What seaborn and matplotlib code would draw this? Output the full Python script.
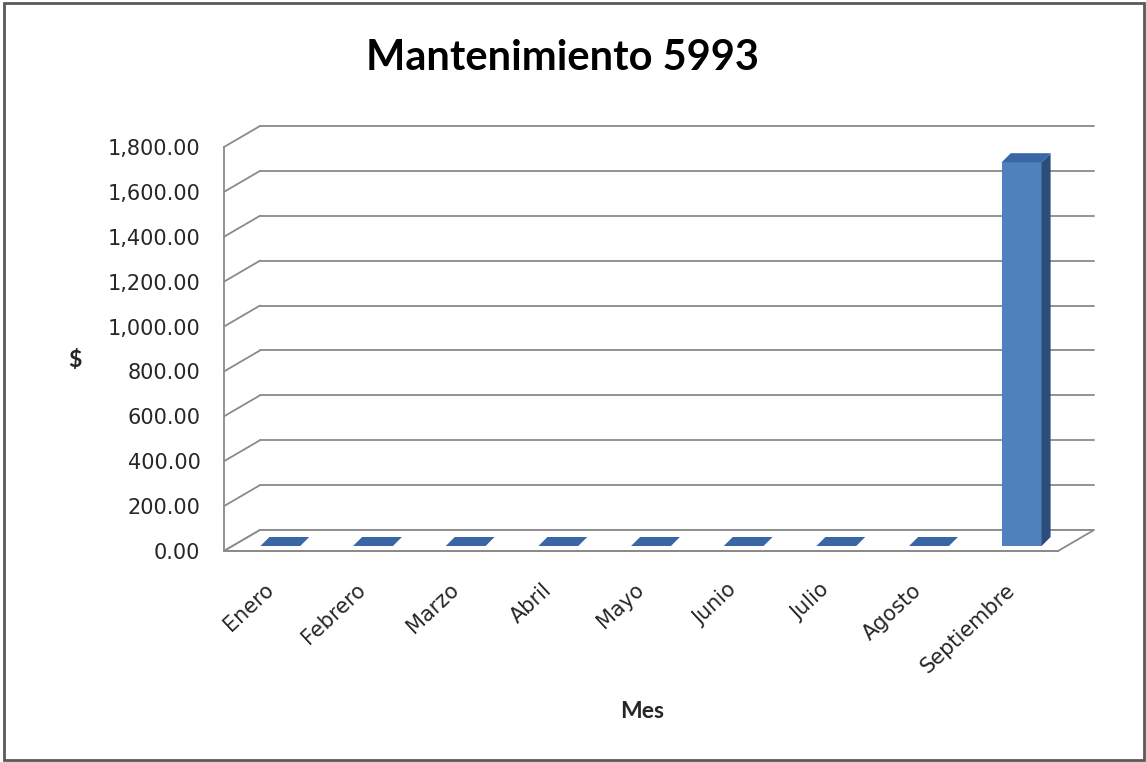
import numpy as np
import pandas as pd
import matplotlib
matplotlib.use("Agg")
import matplotlib.pyplot as plt
import matplotlib.transforms as mtransforms
from matplotlib.patches import Polygon, Rectangle
from matplotlib.lines import Line2D
import seaborn as sns

# ---- data ----
months = ["Enero", "Febrero", "Marzo", "Abril", "Mayo", "Junio", "Julio",
          "Agosto", "Septiembre"]
values = [0, 0, 0, 0, 0, 0, 0, 0, 1710]
y_ticks = [0, 200, 400, 600, 800, 1000, 1200, 1400, 1600, 1800]
title = "Mantenimiento 5993"
x_label = "Mes"
y_label = "$"

df = pd.DataFrame({"Mes": months, "Valor": values})

sns.set_theme(style="white")
plt.rcParams["font.family"] = ["DejaVu Sans"]

W, H, DPI = 1146, 762, 100
fig = plt.figure(figsize=(W / DPI, H / DPI), dpi=DPI)
fig.patch.set_facecolor("white")

# plot area (front plane)
ax = fig.add_axes([224 / W, 211 / H, 834 / W, 404 / H])
ax.set_facecolor("none")

front_col = "#4F81BD"
top_col = "#3A66A6"
side_col = "#2C4C7C"
grid_col = "#8A8A8A"

sns.barplot(data=df, x="Mes", y="Valor", color=front_col, width=0.43,
            saturation=1, ax=ax, zorder=4)
ax.set_xlim(-0.5, len(months) - 0.5)
ax.set_ylim(y_ticks[0], y_ticks[-1])
fig.canvas.draw()

ident = mtransforms.IdentityTransform()
wall = np.array([36.0, 21.0])      # depth of back wall (pixels)
bar_off = np.array([10.0, 5.0])    # bar front face offset
bar_depth = np.array([9.0, 9.0])   # bar depth


def D(x, y):
    return np.array(ax.transData.transform((x, y)))


x_left, x_right = ax.get_xlim()
# back wall gridlines + side wall diagonals
for v in y_ticks:
    p0 = D(x_left, v)
    p1 = D(x_right, v)
    ax.add_line(Line2D([p0[0], p0[0] + wall[0]], [p0[1], p0[1] + wall[1]],
                       transform=ident, color=grid_col, lw=1.3, zorder=1,
                       clip_on=False))
    ax.add_line(Line2D([p0[0] + wall[0], p1[0] + wall[0]],
                       [p0[1] + wall[1], p1[1] + wall[1]],
                       transform=ident, color=grid_col, lw=1.3, zorder=1,
                       clip_on=False))
# floor
f0 = D(x_left, 0)
f1 = D(x_right, 0)
floor = Polygon([f0, f1, f1 + wall, f0 + wall], closed=True, transform=ident,
                facecolor="white", edgecolor=grid_col, lw=1.3, zorder=2,
                clip_on=False)
ax.add_patch(floor)

# bars with pseudo-3D faces
for patch in list(ax.patches):
    if not isinstance(patch, Rectangle) or patch is floor:
        continue
    x0 = patch.get_x()
    w = patch.get_width()
    h = patch.get_height()
    bl = D(x0, 0) + bar_off
    br = D(x0 + w, 0) + bar_off
    tl = D(x0, h) + bar_off
    tr = D(x0 + w, h) + bar_off
    patch.set_transform(ax.transData + mtransforms.Affine2D().translate(*bar_off))
    patch.set_clip_on(False)
    patch.set_linewidth(0)
    if h > 0:
        ax.add_patch(Polygon([br, tr, tr + bar_depth, br + bar_depth],
                             closed=True, transform=ident, facecolor=side_col,
                             edgecolor="none", zorder=4, clip_on=False))
    ax.add_patch(Polygon([tl, tr, tr + bar_depth, tl + bar_depth], closed=True,
                         transform=ident, facecolor=top_col,
                         edgecolor="none", zorder=5, clip_on=False))

# axes styling
for s in ["top", "right"]:
    ax.spines[s].set_visible(False)
for s in ["left", "bottom"]:
    ax.spines[s].set_color(grid_col)
    ax.spines[s].set_linewidth(1.3)
    ax.spines[s].set_zorder(6)

ax.set_yticks(y_ticks)
ax.set_yticklabels([f"{v:,.2f}" for v in y_ticks], fontsize=15,
                   color="#262626")
ax.tick_params(axis="y", direction="out", length=5, width=1.3,
               color=grid_col, pad=12)
ax.set_xticks(range(len(months)))
ax.set_xticklabels(months, rotation=43, ha="right", va="center",
                   rotation_mode="anchor", fontsize=15, color="#262626")
ax.tick_params(axis="x", which="major", length=0, pad=26)
ax.set_xticks(np.arange(-0.5, len(months)), minor=True)
ax.tick_params(axis="x", which="minor", direction="out", length=6, width=1.3,
               color=grid_col)
ax.set_xlabel("")
ax.set_ylabel("")

fig.text(562 / W, 1 - 58 / H, title, ha="center", va="center",
         fontsize=30, fontweight="bold", family=["Lato", "DejaVu Sans"],
         color="black")
fig.text(642 / W, 1 - 712 / H, x_label, ha="center", va="center",
         fontsize=16.5, fontweight="bold", family=["Lato", "DejaVu Sans"],
         color="#262626")
fig.text(75 / W, 1 - 360 / H, y_label, ha="center", va="center",
         fontsize=16.5, fontweight="bold", family=["Lato", "DejaVu Sans"],
         color="#262626")

# outer border
fig.add_artist(Rectangle((4 / W, 2 / H), 1140 / W, 757 / H, transform=fig.transFigure,
                         fill=False, edgecolor="#5A5A5A", lw=2))

fig.savefig("out.png", dpi=DPI, facecolor="white")
